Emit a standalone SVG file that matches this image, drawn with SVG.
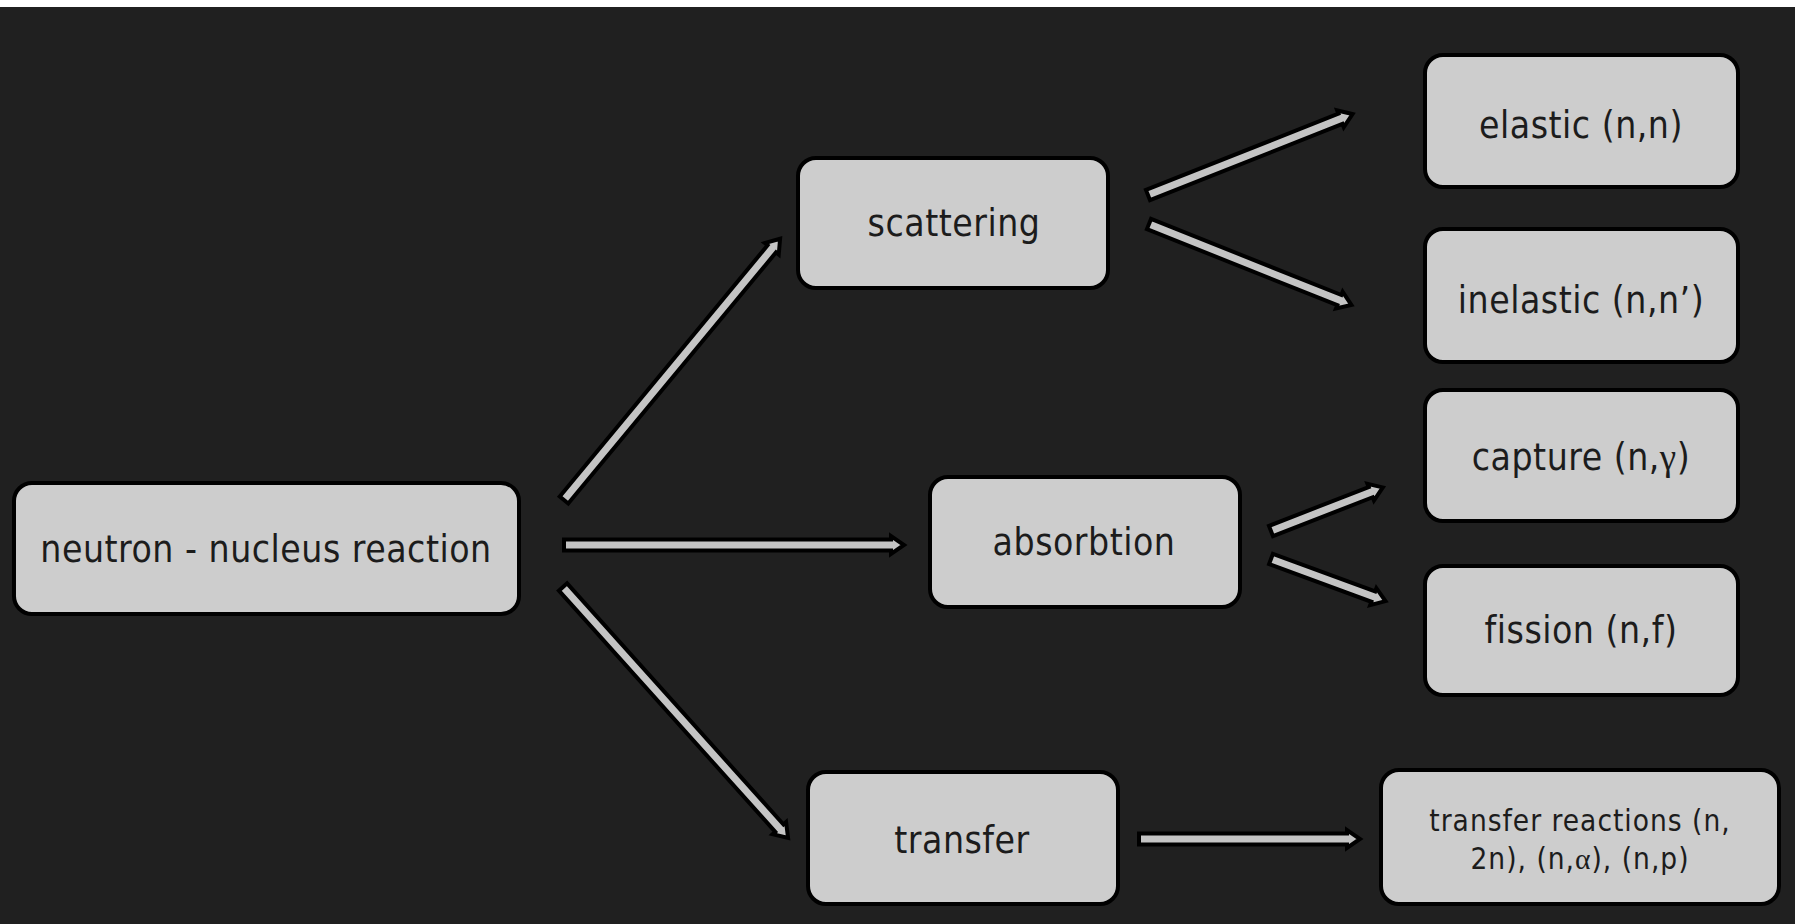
<svg xmlns="http://www.w3.org/2000/svg" width="1795" height="924" viewBox="0 0 1795 924">
<style>
.box{fill:#cdcdcd;stroke:#000;stroke-width:4}
.t{font-family:"DejaVu Sans Condensed","DejaVu Sans",sans-serif;font-stretch:condensed;font-size:37px;letter-spacing:0.5px;fill:#1c1c1c;text-anchor:middle}
.ts{font-family:"DejaVu Sans Condensed","DejaVu Sans",sans-serif;font-stretch:condensed;font-size:29.5px;letter-spacing:1px;fill:#1c1c1c;text-anchor:middle}
.g{font-family:"Liberation Serif",serif;font-stretch:normal}
.arr{fill:#c4c4c4;stroke:#000;stroke-width:4;stroke-linejoin:miter}
</style>
<rect x="0" y="0" width="1795" height="924" fill="#202020"/>
<rect x="0" y="0" width="1795" height="7" fill="#ffffff"/>
<g id="connectors">
<path class="arr" transform="translate(564,500) rotate(-50.4)" d="M0,-5.5 L326,-5.5 L326,-9 L339,0 L326,9 L326,5.5 L0,5.5 Z"/>
<path class="arr" transform="translate(564,545)" d="M0,-5.5 L327,-5.5 L327,-9 L340,0 L327,9 L327,5.5 L0,5.5 Z"/>
<path class="arr" transform="translate(563,587) rotate(48.1)" d="M0,-5.5 L324,-5.5 L324,-9 L337,0 L324,9 L324,5.5 L0,5.5 Z"/>
<path class="arr" transform="translate(1148,195) rotate(-21.6)" d="M0,-5.5 L207,-5.5 L207,-9 L220,0 L207,9 L207,5.5 L0,5.5 Z"/>
<path class="arr" transform="translate(1149,224) rotate(21.8)" d="M0,-5.5 L205,-5.5 L205,-9 L218,0 L205,9 L205,5.5 L0,5.5 Z"/>
<path class="arr" transform="translate(1271,531) rotate(-21.3)" d="M0,-5.5 L107,-5.5 L107,-9 L120,0 L107,9 L107,5.5 L0,5.5 Z"/>
<path class="arr" transform="translate(1271,559) rotate(20.2)" d="M0,-5.5 L109,-5.5 L109,-9 L122,0 L109,9 L109,5.5 L0,5.5 Z"/>
<path class="arr" transform="translate(1139,839)" d="M0,-5.5 L208,-5.5 L208,-9 L221,0 L208,9 L208,5.5 L0,5.5 Z"/>
</g>
<g id="node-neutron">
<rect class="box" x="14" y="483" width="505" height="131" rx="18"/>
<text class="t" x="266" y="562">neutron - nucleus reaction</text>
</g>
<g id="node-scattering">
<rect class="box" x="798" y="158" width="310" height="130" rx="18"/>
<text class="t" x="954" y="236">scattering</text>
</g>
<g id="node-absorbtion">
<rect class="box" x="930" y="477" width="310" height="130" rx="18"/>
<text class="t" x="1084" y="555">absorbtion</text>
</g>
<g id="node-transfer">
<rect class="box" x="808" y="772" width="310" height="132" rx="18"/>
<text class="t" x="962" y="853">transfer</text>
</g>
<g id="node-elastic">
<rect class="box" x="1425" y="55" width="313" height="132" rx="18"/>
<text class="t" x="1581" y="138">elastic (n,n)</text>
</g>
<g id="node-inelastic">
<rect class="box" x="1425" y="229" width="313" height="133" rx="18"/>
<text class="t" x="1581" y="313">inelastic (n,n’)</text>
</g>
<g id="node-capture">
<rect class="box" x="1425" y="390" width="313" height="131" rx="18"/>
<text class="t" x="1581" y="470">capture (n,<tspan class="g">γ</tspan>)</text>
</g>
<g id="node-fission">
<rect class="box" x="1425" y="566" width="313" height="129" rx="18"/>
<text class="t" x="1581" y="643">fission (n,f)</text>
</g>
<g id="node-transfer-reactions">
<rect class="box" x="1381" y="770" width="398" height="134" rx="18"/>
<text class="ts" x="1580" y="831">transfer reactions (n,</text>
<text class="ts" x="1580" y="869">2n), (n,<tspan class="g">α</tspan>), (n,p)</text>
</g>
</svg>
